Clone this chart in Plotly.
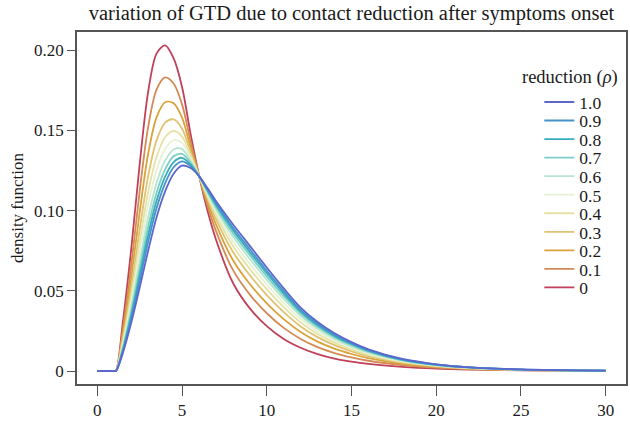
import plotly.graph_objects as go

# ---------------- data ----------------
x_days = [0, 1, 1.1, 1.5, 2, 2.5, 3, 3.5, 4, 4.5, 5, 5.5, 6, 6.5, 7, 8, 9, 10,
          11, 12, 13, 14, 15, 16, 18, 20, 22, 25, 30]

rho_labels = ["0", "0.1", "0.2", "0.3", "0.4", "0.5", "0.6", "0.7", "0.8", "0.9", "1.0"]

density_rho_0 = [0, 0, 0, 0.030, 0.076, 0.129, 0.174, 0.198, 0.203, 0.195, 0.177, 0.148, 0.122, 0.100, 0.082,
                 0.055, 0.039, 0.028, 0.020, 0.0145, 0.0105, 0.0077, 0.0058, 0.0044, 0.0026, 0.0015, 0.0009, 0.0004, 0.0001]
density_rho_01 = [0, 0, 0, 0.0258, 0.0659, 0.1121, 0.1522, 0.1756, 0.1830, 0.1792, 0.1662, 0.1433, 0.1219, 0.1031, 0.0873,
                  0.0630, 0.0476, 0.0360, 0.0269, 0.0200, 0.0149, 0.0112, 0.0085, 0.0064, 0.0037, 0.0021, 0.0012, 0.0005, 0.0001]
density_rho_02 = [0, 0, 0, 0.0226, 0.0581, 0.0990, 0.1354, 0.1582, 0.1675, 0.1669, 0.1579, 0.1396, 0.1218, 0.1055, 0.0914,
                  0.0692, 0.0542, 0.0422, 0.0323, 0.0243, 0.0183, 0.0139, 0.0106, 0.0080, 0.0045, 0.0026, 0.0014, 0.0006, 0.0001]
density_rho_03 = [0, 0, 0, 0.0199, 0.0516, 0.0882, 0.1215, 0.1439, 0.1548, 0.1568, 0.1510, 0.1366, 0.1217, 0.1074, 0.0947,
                  0.0743, 0.0597, 0.0473, 0.0367, 0.0278, 0.0211, 0.0161, 0.0123, 0.0092, 0.0052, 0.0029, 0.0016, 0.0007, 0.0002]
density_rho_04 = [0, 0, 0, 0.0180, 0.0470, 0.0805, 0.1116, 0.1337, 0.1457, 0.1496, 0.1461, 0.1345, 0.1217, 0.1088, 0.0971,
                  0.0780, 0.0636, 0.0510, 0.0398, 0.0303, 0.0231, 0.0177, 0.0135, 0.0101, 0.0057, 0.0032, 0.0018, 0.0008, 0.0002]
density_rho_05 = [0, 0, 0, 0.0165, 0.0433, 0.0743, 0.1037, 0.1256, 0.1384, 0.1439, 0.1422, 0.1327, 0.1217, 0.1099, 0.0990,
                  0.0809, 0.0667, 0.0539, 0.0424, 0.0323, 0.0247, 0.0189, 0.0145, 0.0109, 0.0061, 0.0034, 0.0019, 0.0008, 0.0002]
density_rho_06 = [0, 0, 0, 0.0150, 0.0397, 0.0682, 0.0958, 0.1174, 0.1311, 0.1381, 0.1383, 0.1310, 0.1216, 0.1111, 0.1010,
                  0.0838, 0.0698, 0.0568, 0.0449, 0.0343, 0.0263, 0.0202, 0.0154, 0.0116, 0.0065, 0.0036, 0.0020, 0.0009, 0.0002]
density_rho_07 = [0, 0, 0, 0.0139, 0.0369, 0.0636, 0.0899, 0.1113, 0.1257, 0.1338, 0.1354, 0.1297, 0.1216, 0.1119, 0.1024,
                  0.0860, 0.0722, 0.0590, 0.0468, 0.0358, 0.0275, 0.0211, 0.0162, 0.0121, 0.0068, 0.0038, 0.0021, 0.0009, 0.0002]
density_rho_08 = [0, 0, 0, 0.0129, 0.0346, 0.0597, 0.0849, 0.1062, 0.1211, 0.1302, 0.1329, 0.1287, 0.1215, 0.1126, 0.1036,
                  0.0879, 0.0741, 0.0609, 0.0484, 0.0370, 0.0285, 0.0219, 0.0168, 0.0126, 0.0070, 0.0039, 0.0022, 0.0009, 0.0002]
density_rho_09 = [0, 0, 0, 0.0120, 0.0325, 0.0562, 0.0805, 0.1016, 0.1170, 0.1270, 0.1307, 0.1277, 0.1215, 0.1132, 0.1047,
                  0.0895, 0.0759, 0.0625, 0.0498, 0.0381, 0.0294, 0.0226, 0.0173, 0.0130, 0.0072, 0.0041, 0.0022, 0.0010, 0.0002]
density_rho_1 = [0, 0, 0, 0.011, 0.030, 0.052, 0.075, 0.096, 0.112, 0.123, 0.128, 0.1265, 0.1215, 0.114, 0.106,
                 0.0915, 0.078, 0.0645, 0.0515, 0.0395, 0.0305, 0.0235, 0.018, 0.0135, 0.0075, 0.0042, 0.0023, 0.0010, 0.0002]

series = [density_rho_0, density_rho_01, density_rho_02, density_rho_03, density_rho_04, density_rho_05,
          density_rho_06, density_rho_07, density_rho_08, density_rho_09, density_rho_1]

x_tick_vals = [0, 5, 10, 15, 20, 25, 30]
x_tick_text = ["0", "5", "10", "15", "20", "25", "30"]
y_tick_vals = [0, 0.05, 0.10, 0.15, 0.20]
y_tick_text = ["0", "0.05", "0.10", "0.15", "0.20"]

# ---------------- styling ----------------
colors = ["#c0405a", "#d38a55", "#d9a23a", "#dfc272", "#e4e2a4", "#e6f2d2",
          "#b6e5cf", "#7ccfc6", "#36adbb", "#4693c8", "#5b66cf"]

FONT = "Liberation Serif"
W, H = 630, 422
L, R, T, B = 77, 2, 32, 37
plot_h = H - T - B

fig = go.Figure()
layout_legends = {}
for i, (lab, ys, col) in enumerate(zip(rho_labels, series, colors)):
    lname = "legend" if i == 0 else f"legend{i + 1}"
    fig.add_trace(go.Scatter(
        x=x_days, y=ys, mode="lines", name=lab,
        line=dict(color=col, width=1.8, shape="spline", smoothing=0.9),
        legend=lname, showlegend=True,
    ))
    j = 10 - i  # position from top (1.0 on top)
    y_px = 102.3 + 18.6 * j
    layout_legends[lname] = dict(
        x=(541 - L) / (W - L - R), xanchor="left",
        y=(H - B - y_px) / plot_h, yanchor="middle",
        bgcolor="rgba(0,0,0,0)", borderwidth=0,
        font=dict(family=FONT, size=17.5, color="#1a1a1a"),
    )

fig.update_layout(
    width=W, height=H,
    margin=dict(l=L, r=R, t=T, b=B),
    paper_bgcolor="white", plot_bgcolor="white",
    font=dict(family=FONT, size=17, color="#1a1a1a"),
    title=dict(text="variation of GTD due to contact reduction after symptoms onset",
               x=0.5, xref="paper", xanchor="center",
               y=1 - 13 / H, yref="container", yanchor="middle",
               font=dict(family=FONT, size=20.5, color="#1a1a1a")),
    xaxis=dict(range=[-1.2, 31.2], tickvals=x_tick_vals, ticktext=x_tick_text,
               ticks="outside", ticklen=10, tickwidth=1.3, tickcolor="#555555",
               showline=True, mirror=True, linecolor="#555555", linewidth=1.6,
               showgrid=False, zeroline=False,
               tickfont=dict(family=FONT, size=17, color="#1a1a1a")),
    yaxis=dict(range=[-0.0081, 0.2113], tickvals=y_tick_vals, ticktext=y_tick_text,
               ticks="outside", ticklen=8, tickwidth=1.3, tickcolor="#555555",
               showline=True, mirror=True, linecolor="#555555", linewidth=1.6,
               showgrid=False, zeroline=False,
               tickfont=dict(family=FONT, size=17, color="#1a1a1a"),
               title=dict(text="density function", standoff=6,
                          font=dict(family=FONT, size=17, color="#1a1a1a"))),
    annotations=[dict(text="reduction (<i>ρ</i>)", xref="paper", yref="paper",
                      x=(622 - L) / (W - L - R), xanchor="right",
                      y=(H - B - 78) / plot_h, yanchor="middle", showarrow=False,
                      font=dict(family=FONT, size=18.5, color="#1a1a1a"))],
    **layout_legends,
)

fig.write_html("out.html", config={"displayModeBar": False},
               post_script="document.body.style.margin='0';")
